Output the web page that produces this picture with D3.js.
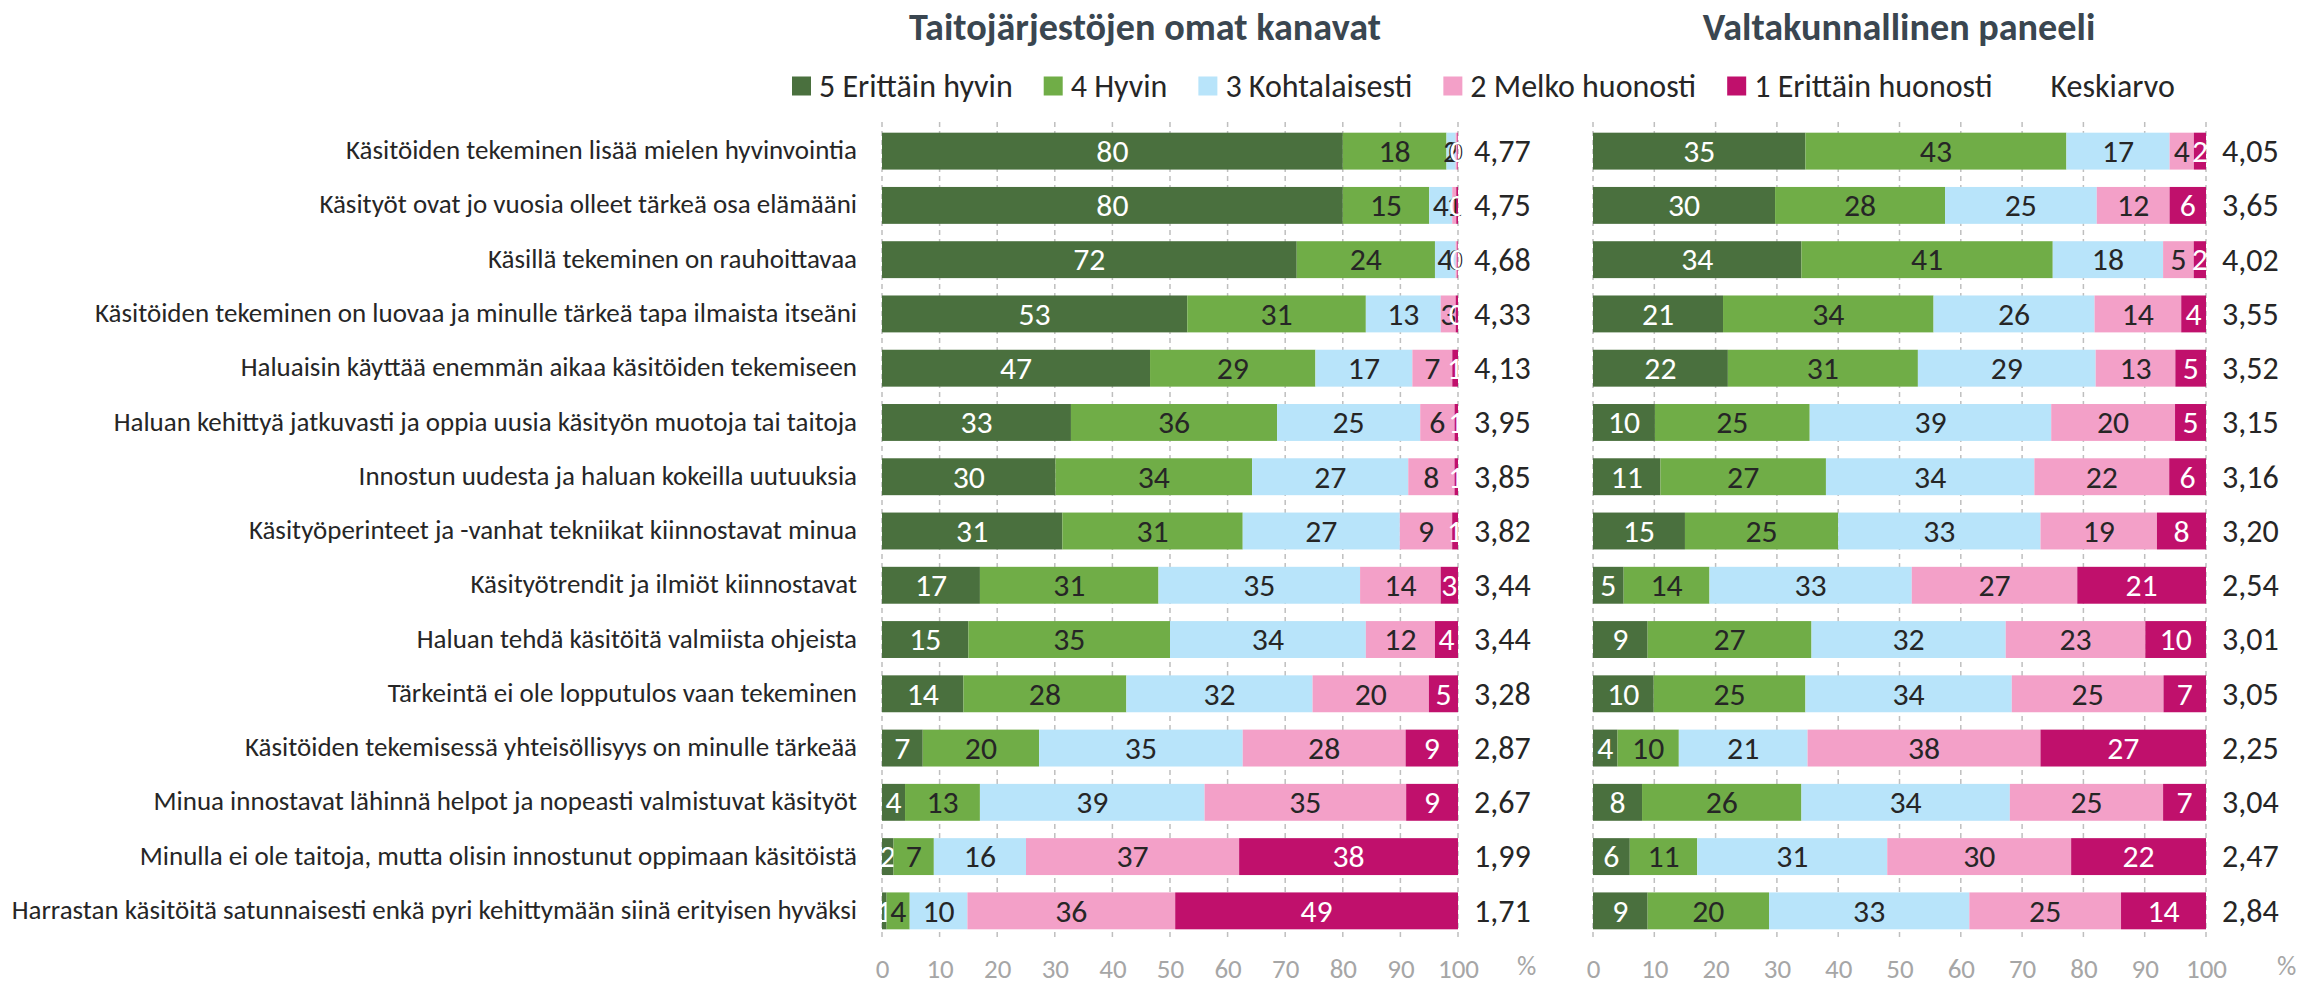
<!DOCTYPE html>
<html>
<head>
<meta charset="utf-8">
<script src="https://cdn.jsdelivr.net/npm/d3@7"></script>
<style>
body { margin: 0; background: #fff; }
svg { display: block; font-family: Carlito, Calibri, Lato, sans-serif; }
</style>
</head>
<body>
<svg id="chart" width="2323" height="986"></svg>
<script>
const categories = [
	"Käsitöiden tekeminen lisää mielen hyvinvointia",
	"Käsityöt ovat jo vuosia olleet tärkeä osa elämääni",
	"Käsillä tekeminen on rauhoittavaa",
	"Käsitöiden tekeminen on luovaa ja minulle tärkeä tapa ilmaista itseäni",
	"Haluaisin käyttää enemmän aikaa käsitöiden tekemiseen",
	"Haluan kehittyä jatkuvasti ja oppia uusia käsityön muotoja tai taitoja",
	"Innostun uudesta ja haluan kokeilla uutuuksia",
	"Käsityöperinteet ja -vanhat tekniikat kiinnostavat minua",
	"Käsityötrendit ja ilmiöt kiinnostavat",
	"Haluan tehdä käsitöitä valmiista ohjeista",
	"Tärkeintä ei ole lopputulos vaan tekeminen",
	"Käsitöiden tekemisessä yhteisöllisyys on minulle tärkeää",
	"Minua innostavat lähinnä helpot ja nopeasti valmistuvat käsityöt",
	"Minulla ei ole taitoja, mutta olisin innostunut oppimaan käsitöistä",
	"Harrastan käsitöitä satunnaisesti enkä pyri kehittymään siinä erityisen hyväksi"
];

const levels = ["5 Erittäin hyvin", "4 Hyvin", "3 Kohtalaisesti", "2 Melko huonosti", "1 Erittäin huonosti"];
const meanLabel = "Keskiarvo";

// Taitojärjestöjen omat kanavat, % per answer (5 ... 1)
const orgValues = [
	[80, 18, 1.6, 0.3, 0.1],
	[80, 15, 4, 0.7, 0.3],
	[72, 24, 3.6, 0.3, 0.1],
	[53, 31, 13, 2.6, 0.4],
	[47, 29, 17, 7, 1],
	[33, 36, 25, 6, 0.6],
	[30, 34, 27, 8, 0.6],
	[31, 31, 27, 9, 1],
	[17, 31, 35, 14, 3],
	[15, 35, 34, 12, 4],
	[14, 28, 32, 20, 5],
	[7, 20, 35, 28, 9],
	[4, 13, 39, 35, 9],
	[2, 7, 16, 37, 38],
	[0.8, 4, 10, 36, 49]
];
const orgMeans = [4.77, 4.75, 4.68, 4.33, 4.13, 3.95, 3.85, 3.82, 3.44, 3.44, 3.28, 2.87, 2.67, 1.99, 1.71];

// Valtakunnallinen paneeli
const panelValues = [
	[35, 43, 17, 4, 2],
	[30, 28, 25, 12, 6],
	[34, 41, 18, 5, 2],
	[21, 34, 26, 14, 4],
	[22, 31, 29, 13, 5],
	[10, 25, 39, 20, 5],
	[11, 27, 34, 22, 6],
	[15, 25, 33, 19, 8],
	[5, 14, 33, 27, 21],
	[9, 27, 32, 23, 10],
	[10, 25, 34, 25, 7],
	[4, 10, 21, 38, 27],
	[8, 26, 34, 25, 7],
	[6, 11, 31, 30, 22],
	[9, 20, 33, 25, 14]
];
const panelMeans = [4.05, 3.65, 4.02, 3.55, 3.52, 3.15, 3.16, 3.20, 2.54, 3.01, 3.05, 2.25, 3.04, 2.47, 2.84];

const ticks = [0, 10, 20, 30, 40, 50, 60, 70, 80, 90, 100];

const colors = ["#4a703e", "#70ad47", "#b8e4fa", "#f3a0c8", "#c0106c"];
const labelColors = ["#ffffff", "#262626", "#262626", "#262626", "#ffffff"];

const svg = d3.select("#chart");

// the original is set in Calibri; scale whatever font we get to its widths
const probe = svg.append("text").style("font-size", "100px").text(categories[0]);
const k = 511 / probe.node().getComputedTextLength() * 100 / 26.8;
probe.style("font-weight", "bold").text("Taitojärjestöjen omat kanavat");
const kb = 472 / probe.node().getComputedTextLength() * 100 / 37.8;
probe.remove();
const fs = s => (s * k).toFixed(2) + "px";

const fi = d3.formatLocale({decimal: ",", thousands: "\u00a0", grouping: [3], currency: ["", " €"]});
const fmtMean = fi.format(".2f");
const fmtVal = d3.format(".0f");

const y = d3.scaleBand()
	.domain(categories)
	.range([124, 938])
	.paddingInner(0.32)
	.paddingOuter(0.16);

const panels = [
	{title: "Taitojärjestöjen omat kanavat", values: orgValues, means: orgMeans, x0: 882, x1: 1458, titleX: 1145, pctDx: 59},
	{title: "Valtakunnallinen paneeli", values: panelValues, means: panelMeans, x0: 1593, x1: 2206, titleX: 1899, pctDx: 71}
];

// category labels
svg.append("g")
	.selectAll("text")
	.data(categories)
	.join("text")
	.attr("x", 857)
	.attr("y", d => y(d) + y.bandwidth() / 2)
	.attr("dy", "0.3em")
	.attr("text-anchor", "end")
	.attr("fill", "#262626")
	.style("font-size", fs(26.8))
	.text(d => d);

const stack = d3.stack()
	.keys(d3.range(levels.length))
	.value((d, key) => d[key])
	.offset(d3.stackOffsetExpand);

panels.forEach(p => {
	const x = d3.scaleLinear().domain([0, 1]).range([p.x0, p.x1]);
	const xt = d3.scaleLinear().domain([0, 100]).range([p.x0, p.x1]);
	const g = svg.append("g");

	g.append("text")
		.attr("x", p.titleX)
		.attr("y", 40)
		.attr("text-anchor", "middle")
		.attr("fill", "#3a4650")
		.style("font-weight", "bold")
		.style("font-size", (37.8 * kb).toFixed(2) + "px")
		.text(p.title);

	g.append("g")
		.selectAll("line")
		.data(ticks)
		.join("line")
		.attr("x1", d => xt(d))
		.attr("x2", d => xt(d))
		.attr("y1", 122)
		.attr("y2", 940)
		.attr("stroke", "#bfbfbf")
		.attr("stroke-width", 1.5)
		.attr("stroke-dasharray", "5,4");

	const tickSize = 26.8 * k;
	const axis = g.append("g")
		.attr("transform", "translate(0,940)")
		.call(d3.axisBottom(xt).tickValues(ticks).tickSize(0).tickPadding(978 - 940 - 0.71 * tickSize));
	axis.select(".domain").remove();
	axis.attr("font-family", null).attr("font-size", null);
	axis.selectAll("text")
		.attr("fill", "#a6a6a6")
		.style("font-size", fs(26.8));

	g.append("text")
		.attr("x", p.x1 + p.pctDx)
		.attr("y", 975)
		.attr("fill", "#a6a6a6")
		.style("font-size", fs(26.8))
		.text("%");

	const series = stack(p.values);

	const layer = g.selectAll("g.series")
		.data(series)
		.join("g")
		.attr("class", "series");

	layer.selectAll("rect")
		.data(d => d)
		.join("rect")
		.attr("x", d => x(d[0]))
		.attr("width", d => x(d[1]) - x(d[0]))
		.attr("y", (d, j) => y(categories[j]))
		.attr("height", y.bandwidth())
		.attr("fill", function() { return colors[d3.select(this.parentNode).datum().key]; });

	layer.selectAll("text")
		.data(s => s.map(d => ({d: d, key: s.key})))
		.join("text")
		.attr("x", e => (x(e.d[0]) + x(e.d[1])) / 2)
		.attr("y", (e, j) => y(categories[j]) + y.bandwidth() / 2)
		.attr("dy", "0.34em")
		.attr("text-anchor", "middle")
		.attr("fill", e => labelColors[e.key])
		.style("font-size", fs(31.5))
		.text(e => fmtVal(e.d.data[e.key]));

	g.append("g")
		.selectAll("text")
		.data(p.means)
		.join("text")
		.attr("x", p.x1 + 16)
		.attr("y", (d, j) => y(categories[j]) + y.bandwidth() / 2)
		.attr("dy", "0.34em")
		.attr("fill", "#262626")
		.style("font-size", fs(31.8))
		.text(d => fmtMean(d));
});

// legend
const legend = svg.append("g").attr("transform", "translate(792,86)");
let lx = 0;
levels.concat([meanLabel]).forEach((name, i) => {
	if (i < colors.length) {
		legend.append("rect")
			.attr("x", lx)
			.attr("y", -9.5)
			.attr("width", 19)
			.attr("height", 19)
			.attr("fill", colors[i]);
	}
	const t = legend.append("text")
		.attr("x", lx + 27)
		.attr("dy", "0.34em")
		.attr("fill", "#262626")
		.style("font-size", fs(31.8))
		.text(name);
	lx += 27 + t.node().getComputedTextLength() + 31;
});
</script>
</body>
</html>
